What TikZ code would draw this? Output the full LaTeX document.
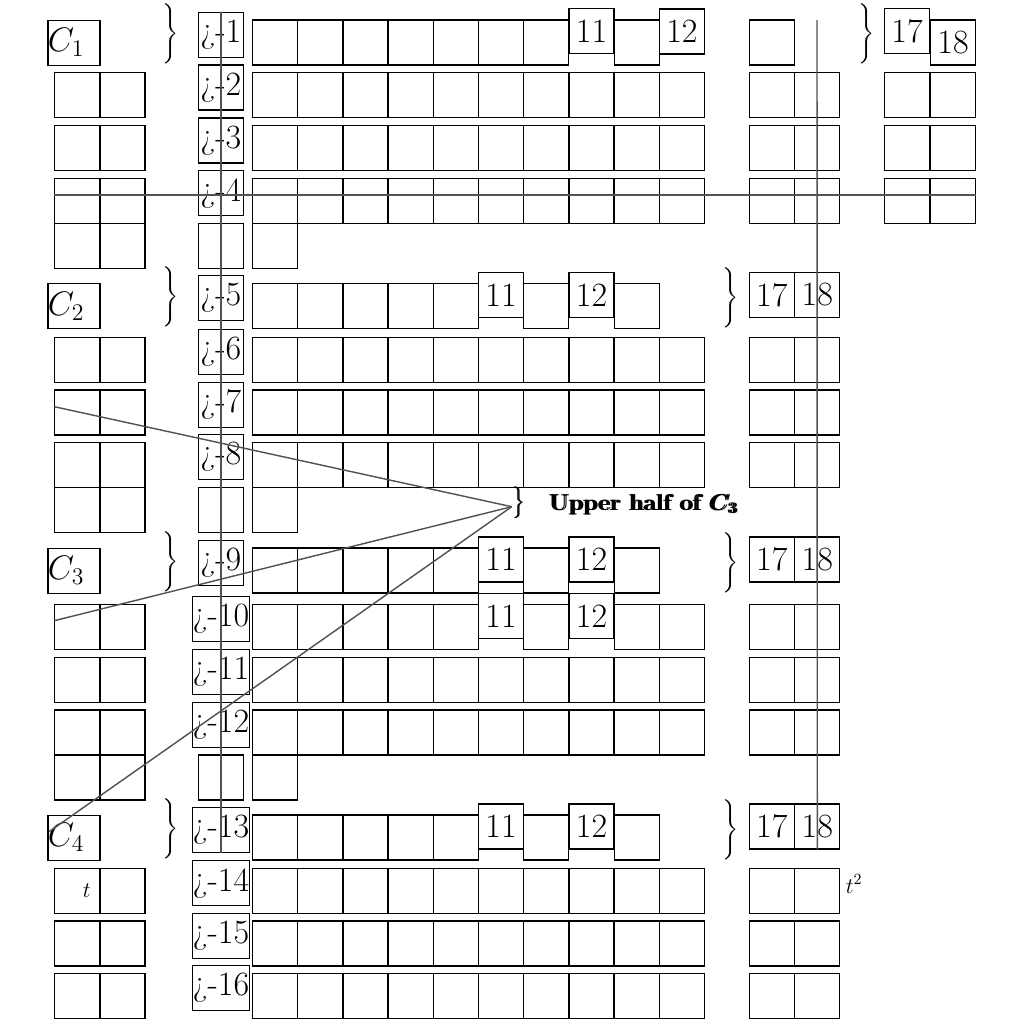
\RequirePackage{fix-cm}
\documentclass[tikz,border=0pt]{standalone}
\usepackage{amsmath}
\usepackage{graphicx}
\newcommand\fsz{\fontsize{21.5}{25.8}\selectfont}
\newcommand\fsm{\fontsize{14.5}{17.4}\selectfont}
\newcommand\bigbrc{\scalebox{1.27}{\fontsize{10}{12}\selectfont$\left.\vcenter to 29pt{\vfil}\right\}$}}
\newcommand\midbrc{\scalebox{1.12}{\fontsize{10}{12}\selectfont\rlap{$\left.\vcenter to 17pt{\vfil}\right\}$}\kern0.7pt$\left.\vcenter to 17pt{\vfil}\right\}$}}
\begin{document}
\begin{tikzpicture}[x=0.0222222cm,y=-0.0222222cm,
  cell/.style={draw, line width=0.7pt, minimum width=1cm, minimum height=1cm, inner sep=0pt, font=\fsz},
  cbox/.style={draw, line width=0.7pt, minimum height=1cm, text width=1.156cm, inner sep=0pt, align=left, font=\fsz},
  gline/.style={draw=black!68, line width=0.9pt},
  brc/.style={inner sep=0pt, font=\fsz}]
\useasboundingbox (0,0) rectangle (1024,1024);

% ---------- normal rows ----------
\foreach \rr/\yy in {2/72.7,3/125.7,4/178.3,6/337.3,7/390,8/442.3,11/657.3,12/710,14/868.3,15/921,16/973.3}{
  \foreach \kk in {0,...,9} \node[cell] (m\rr-\kk) at (275.1+45.2*\kk, \yy+22.5) {};
  \node[cell] (la\rr) at (77.3,\yy+22.5) {};
  \node[cell] (lb\rr) at (122.5,\yy+22.5) {};
  \node[cell] (ra\rr) at (771.8,\yy+22.5) {};
  \node[cell] (rb\rr) at (817.3,\yy+22.5) {};
  \node[cell] (l\rr) at (221,\yy+14.8) {¿-\rr};
}
% far right pairs of block 1
\foreach \rr/\yy in {2/72.7,3/125.7,4/178.3}{
  \node[cell] (fa\rr) at (907,\yy+22.5) {};
  \node[cell] (fb\rr) at (953,\yy+22.5) {};
}

% ---------- row 1 ----------
\foreach \kk in {0,1,2,3,4,5,6,8} \node[cell] (m1-\kk) at (275.1+45.2*\kk, 42.5) {};
\node[cell] (m1-7) at (275.1+45.2*7, 31) {11};
\node[cell] (m1-9) at (275.1+45.2*9, 31.5) {12};
\node[cbox] (c1) at (74,42.8) {$C_1$};
\node[brc] (bl1) at (169.5,34) {\bigbrc};
\node[cell] (l1) at (221,34.8) {¿-1};
\node[cell] (ra1) at (771.8,42.5) {};
\node[brc] (br1) at (865,34) {\bigbrc};
\node[cell] (fa1) at (907,31) {17};
\node[cell] (fb1) at (953,42.5) {18};

% ---------- first rows of blocks 2-4 ----------
\foreach \rr/\yy/\bb in {5/283.3/2, 9/548/3, 13/815/4}{
  \foreach \kk in {0,1,2,3,4,6,8} \node[cell] (m\rr-\kk) at (275.1+45.2*\kk,\yy+22.5) {};
  \node[cell] (m\rr-5) at (275.1+45.2*5,\yy+11.5) {11};
  \node[cell] (m\rr-7) at (275.1+45.2*7,\yy+11.5) {12};
  \node[cbox] (c\bb) at (74,\yy+22.8) {$C_{\bb}$};
  \node[brc] (bl\bb) at (169.5,\yy+14) {\bigbrc};
  \node[brc] (br\bb) at (729.2,\yy+14.5) {\bigbrc};
  \node[cell] (ra\rr) at (771.8,\yy+11.5) {17};
  \node[cell] (rb\rr) at (817.3,\yy+11.5) {18};
  \node[cell] (l\rr) at (221,\yy+14.8) {¿-\rr};
}

% ---------- row 10 ----------
\foreach \kk in {0,1,2,3,4,6,8,9} \node[cell] (m10-\kk) at (275.1+45.2*\kk, 626.8) {};
\node[cell] (m10-5) at (275.1+45.2*5, 615.8) {11};
\node[cell] (m10-7) at (275.1+45.2*7, 615.8) {12};
\node[cell] (la10) at (77.3,626.8) {};
\node[cell] (lb10) at (122.5,626.8) {};
\node[cell] (ra10) at (771.8,626.8) {};
\node[cell] (rb10) at (817.3,626.8) {};
\node[cell] (l10) at (221,619.1) {¿-10};

% ---------- extra rows ----------
\foreach \ee/\yy in {1/223.3,2/487.7,3/755}{
  \node[cell] (xla\ee) at (77.3,\yy+22.5) {};
  \node[cell] (xlb\ee) at (122.5,\yy+22.5) {};
  \node[cell] (xl\ee) at (221.3,\yy+22.5) {};
  \node[cell] (xm\ee) at (275.1,\yy+22.5) {};
}

% ---------- small labels ----------
\node[inner sep=0pt, font=\fontsize{14}{17}\selectfont] (tt) at (86.7,891) {$t$};
\node[anchor=west, inner sep=0pt, font=\fontsize{14}{17}\selectfont] (t2) at (845.5,884) {$t^2$};

% ---------- upper half brace ----------
\node[inner sep=0pt] (ub) at (518,503) {\midbrc};
\node[anchor=base west, inner sep=0pt, font=\fsm] (uh) at (548,510)
  {\rlap{\textbf{Upper half of $\boldsymbol{C_3}$}}\kern1.2pt\textbf{Upper half of $\boldsymbol{C_3}$}};

% ---------- gray connectors ----------
\coordinate (vtop) at (817,20);
\coordinate (hl) at (54.3,195);
\coordinate (hr) at (976,195);
\coordinate (tip) at (511.7,506.7);
\coordinate (p7) at (54.3,406.7);
\coordinate (p10) at (54.3,620.7);
\coordinate (pc4) at (49,831.7);
\draw[gline] (l1.north) -- (l13.south);
\draw[gline] (vtop) -- (rb13.south);
\draw[gline] (hl) -- (hr);
\draw[gline] (tip) -- (p7);
\draw[gline] (tip) -- (p10);
\draw[gline] (tip) -- (pc4);
\end{tikzpicture}
\end{document}
